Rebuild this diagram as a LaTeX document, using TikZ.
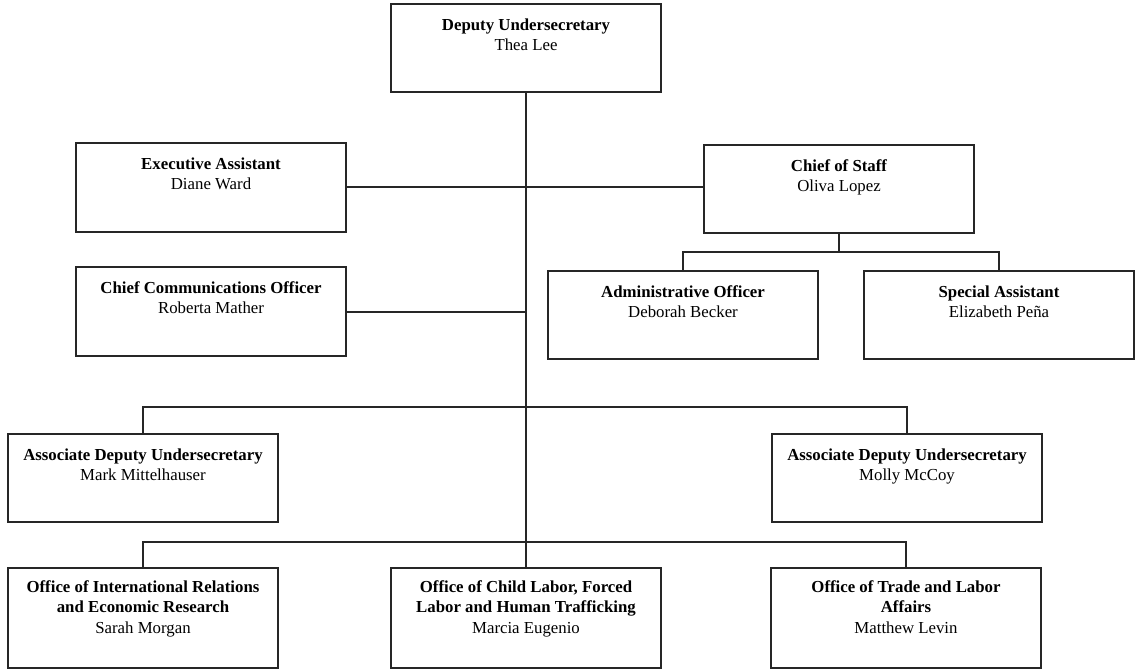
\documentclass[tikz,border=0pt]{standalone}
\usepackage{fontspec}
\setmainfont{Liberation Serif}
\newcommand{\orgcell}[4]{\parbox[c][#1][t]{270pt}{\centering\rule{0pt}{#2}{\bfseries #3}\\#4\par}}
\begin{document}
\begin{tikzpicture}[x=1pt,y=-1pt,
  orgbox/.style={draw=black!85, line width=1.7pt, inner sep=0pt, outer sep=0pt, anchor=north west,
    font=\fontsize{16.8}{20.5}\selectfont},
  link/.style={draw=black!85, line width=1.5pt}]
\useasboundingbox (0,0) rectangle (1135,670);
\node[orgbox] (dep) at (391,4) {\orgcell{88pt}{26pt}{Deputy Undersecretary}{Thea Lee}};
\node[orgbox] (exa) at (76,143) {\orgcell{89pt}{26pt}{Executive Assistant}{Diane Ward}};
\node[orgbox] (cos) at (704,145) {\orgcell{88pt}{26pt}{Chief of Staff}{Oliva Lopez}};
\node[orgbox] (cco) at (76,267) {\orgcell{89pt}{26pt}{Chief Communications Officer}{Roberta Mather}};
\node[orgbox] (adm) at (548,271) {\orgcell{88pt}{26pt}{Administrative Officer}{Deborah Becker}};
\node[orgbox] (spa) at (864,271) {\orgcell{88pt}{26pt}{Special Assistant}{Elizabeth Peña}};
\node[orgbox] (ads1) at (8,434) {\orgcell{88pt}{26pt}{Associate Deputy Undersecretary}{Mark Mittelhauser}};
\node[orgbox] (ads2) at (772,434) {\orgcell{88pt}{26pt}{Associate Deputy Undersecretary}{Molly McCoy}};
\node[orgbox] (off1) at (8,568) {\orgcell{100pt}{24pt}{Office of International Relations\\and Economic Research}{Sarah Morgan}};
\node[orgbox] (off2) at (391,568) {\orgcell{100pt}{24pt}{Office of Child Labor, Forced\\Labor and Human Trafficking}{Marcia Eugenio}};
\node[orgbox] (off3) at (771,568) {\orgcell{100pt}{24pt}{Office of Trade and Labor\\Affairs}{Matthew Levin}};
\coordinate (cj) at (cos.south |- 0,252);
\coordinate (aj) at (dep.south |- 0,407);
\coordinate (oj) at (dep.south |- 0,542);
\coordinate (ej) at (exa.east |- 0,187);
\coordinate (mj) at (cco.east |- 0,312);
\draw[link] (dep.south) -- (dep.south |- off2.north);
\draw[link] (ej) -- (ej -| cos.west);
\draw[link] (mj) -- (mj -| dep.south);
\draw[link] (cos.south) -- (cj);
\draw[link] (adm.north) |- (cj) -| (spa.north);
\draw[link] (ads1.north) |- (aj) -| (ads2.north);
\draw[link] (off1.north) |- (oj) -| (off3.north);
\end{tikzpicture}
\end{document}
